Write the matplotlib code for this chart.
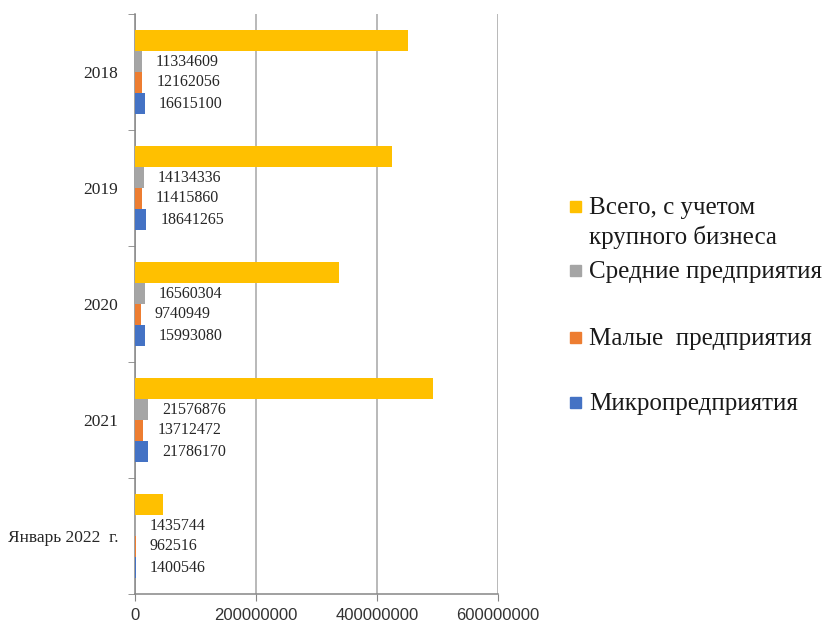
import matplotlib
matplotlib.use("Agg")
import matplotlib.pyplot as plt
from matplotlib.patches import Rectangle
import numpy as np

categories = ["2018", "2019", "2020", "2021", "Январь 2022  г."]
micro = [16615100, 18641265, 15993080, 21786170, 1400546]
small = [12162056, 11415860, 9740949, 13712472, 962516]
medium = [11334609, 14134336, 16560304, 21576876, 1435744]
total = [452000000, 425000000, 337000000, 492000000, 45600000]

series_names = ["Микропредприятия", "Малые  предприятия", "Средние предприятия",
                "Всего, с учетом\nкрупного бизнеса"]
colors = ["#4472C4", "#ED7D31", "#A5A5A5", "#FFC000"]
xticks = [0, 200000000, 400000000, 600000000]

W, H = 828, 623
fig = plt.figure(figsize=(W / 100, H / 100), dpi=100)
ax = fig.add_axes([135 / W, 1 - 594 / H, (498 - 135) / W, (594 - 14) / H])

y = np.arange(len(categories))
h = 21 / 116
serif = "Liberation Serif"

series = [micro, small, medium, total]
offsets = [1.5 * h, 0.5 * h, -0.5 * h, -1.5 * h]
for vals, off, col in zip(series, offsets, colors):
    ax.barh(y + off, vals, height=h, color=col, zorder=3)

for vals, off in zip([micro, small, medium], offsets[:3]):
    for yi, v in zip(y, vals):
        ax.annotate(f"{v}", (v, yi + off), xytext=(10, 0), textcoords="offset points",
                    va="center", ha="left", fontsize=11.5, family=serif, color="#262626",
                    zorder=4)

ax.set_ylim(len(categories) - 0.5, -0.5)
ax.set_xlim(0, 600000000)
ax.set_yticks(y)
ax.set_yticklabels(categories, family=serif, fontsize=12.5, color="#262626")
ax.tick_params(axis="y", which="major", length=0, pad=12)
ax.set_yticks(np.arange(-0.5, len(categories) + 0.5, 1), minor=True)
ax.tick_params(axis="y", which="minor", length=5, color="#868686", direction="out")

ax.set_xticks(xticks)
ax.set_xticklabels([str(t) for t in xticks], family="Liberation Sans", fontsize=12,
                   color="#333333")
ax.tick_params(axis="x", length=5, color="#868686", pad=5)

ax.grid(axis="x", color="#A6A6A6", linewidth=1.1, zorder=0)
for s in ["top", "right"]:
    ax.spines[s].set_visible(False)
for s in ["left", "bottom"]:
    ax.spines[s].set_color("#868686")
    ax.spines[s].set_linewidth(1.1)

# Legend (manual, as in the reference)
leg_items = [
    (3, 206, ["Всего, с учетом", "крупного бизнеса"]),
    (2, 270, ["Средние предприятия"]),
    (1, 337, ["Малые  предприятия"]),
    (0, 402, ["Микропредприятия"]),
]
sq = 11
for idx, yc, lines in leg_items:
    fig.add_artist(Rectangle(((576 - sq / 2) / W, 1 - (yc + sq / 2) / H), sq / W, sq / H,
                             transform=fig.transFigure, color=colors[idx]))
    for k, line in enumerate(lines):
        fig.text(589 / W, 1 - (yc + 2 + k * 29.5) / H, line, family=serif, fontsize=18,
                 va="center", ha="left", color="#1a1a1a")

fig.savefig("out.png", dpi=100)
